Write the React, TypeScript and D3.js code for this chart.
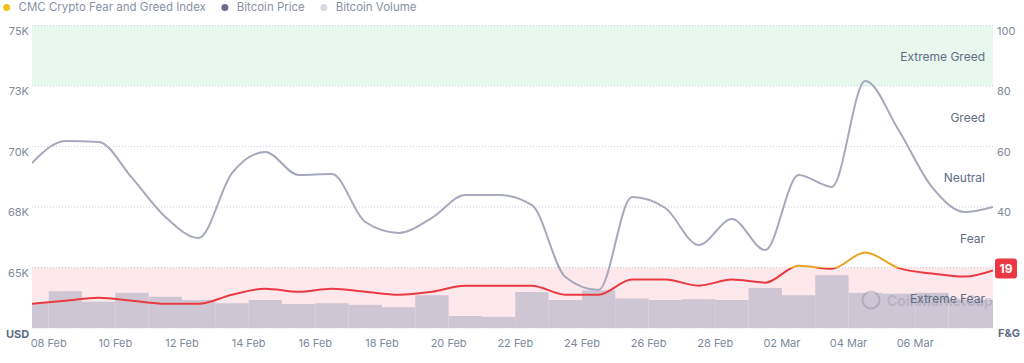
import React, { useEffect, useLayoutEffect, useRef, useState } from 'react';
import * as d3 from 'd3';

// daily points (noon UTC), last one is the live reading
const dates = [
  '2026-02-07T12:00Z', '2026-02-08T12:00Z', '2026-02-09T12:00Z', '2026-02-10T12:00Z',
  '2026-02-11T12:00Z', '2026-02-12T12:00Z', '2026-02-13T12:00Z', '2026-02-14T12:00Z',
  '2026-02-15T12:00Z', '2026-02-16T12:00Z', '2026-02-17T12:00Z', '2026-02-18T12:00Z',
  '2026-02-19T12:00Z', '2026-02-20T12:00Z', '2026-02-21T12:00Z', '2026-02-22T12:00Z',
  '2026-02-23T12:00Z', '2026-02-24T12:00Z', '2026-02-25T12:00Z', '2026-02-26T12:00Z',
  '2026-02-27T12:00Z', '2026-02-28T12:00Z', '2026-03-01T12:00Z', '2026-03-02T12:00Z',
  '2026-03-03T12:00Z', '2026-03-04T12:00Z', '2026-03-05T12:00Z', '2026-03-06T12:00Z',
  '2026-03-07T12:00Z', '2026-03-08T08:00Z',
];

const btcPrice = [
  69320, 70230, 70190, 68700, 67090, 66220, 68900, 69770, 68820, 68860,
  66880, 66430, 67050, 68000, 68000, 67580, 64610, 64070, 67910, 67460,
  65930, 67000, 65720, 68820, 68330, 72710, 70680, 68330, 67290, 67500,
];

const fearGreed = [
  8, 9, 10, 9, 8, 8, 11, 13, 12, 13,
  12, 11, 12, 14, 14, 14, 11, 11, 16, 16,
  14, 16, 15, 20.6, 19.6, 25, 19.8, 18, 17, 19,
];

// billions USD
const btcVolume = [
  31, 46, 33, 44, 39, 35, 31, 35, 30, 31,
  29, 26, 41, 15, 14, 45, 35, 47, 37, 35,
  36, 35, 50, 41, 66, 44, 43, 44, 35, 35,
];

const priceTicks = [75000, 72500, 70000, 67500, 65000];
const fgTicks = [100, 80, 60, 40];
const fgGrid = [0, 20, 40, 60, 80, 100];
const dateTicks = [
  '2026-02-08', '2026-02-10', '2026-02-12', '2026-02-14', '2026-02-16', '2026-02-18',
  '2026-02-20', '2026-02-22', '2026-02-24', '2026-02-26', '2026-02-28', '2026-03-02',
  '2026-03-04', '2026-03-06',
];
const zoneLabels = ['Extreme Fear', 'Fear', 'Neutral', 'Greed', 'Extreme Greed'];

const legendLabels = ['CMC Crypto Fear and Greed Index', 'Bitcoin Price', 'Bitcoin Volume'];
const legendColors = ['#f0c419', '#6c6f8c', '#d7dae2'];

const W = 1024;
const H = 363;
const left = 32;
const right = 993;
const top = 25.5;
const bottom = 328;

const RED = '#ea3943';
const ORANGE = '#eaa325';
const FONT = 'Inter, "Noto Sans", sans-serif';

const App: React.FC = () => {
  const legendRefs = useRef<(SVGTextElement | null)[]>([]);
  const [legendW, setLegendW] = useState<number[]>(legendLabels.map(l => l.length * 6));

  useEffect(() => {
    document.body.style.margin = '0';
  }, []);

  useLayoutEffect(() => {
    const w = legendRefs.current.map(el => (el ? el.getComputedTextLength() : 0));
    if (w.every(v => v > 0)) setLegendW(w);
  }, []);

  const t = dates.map(d => new Date(d));
  const x = d3.scaleUtc().domain([t[0], t[t.length - 1]]).range([left, right]);
  const yPrice = d3.scaleLinear().domain([62500, 75000]).range([bottom, top]);
  const yFG = d3.scaleLinear().domain([0, 100]).range([bottom, top]);
  const yVol = d3.scaleLinear().domain([0, 100]).range([bottom, bottom - 80]);

  const pricePath = d3.line<number>()
    .x((_, i) => x(t[i]))
    .y(d => yPrice(d))
    .curve(d3.curveMonotoneX)(btcPrice) || '';

  const fgPath = d3.line<number>()
    .x((_, i) => x(t[i]))
    .y(d => yFG(d))
    .curve(d3.curveMonotoneX)(fearGreed) || '';

  const halfDay = 12 * 3600 * 1000;
  const fmt = d3.utcFormat('%d %b');
  const fgStop = (100 - 20) / 100;
  const lastFG = fearGreed[fearGreed.length - 1];
  const lastY = yFG(lastFG) - 2;

  // legend layout: dot, label, gap
  const legendX: number[] = [];
  let lx = 6.7;
  legendLabels.forEach((_, i) => {
    legendX.push(lx);
    lx += 11.8 + legendW[i] + 19;
  });

  return (
    <svg width={W} height={H} style={{ display: 'block', fontFamily: FONT }}>
      <defs>
        <clipPath id="plot">
          <rect x={left} y={0} width={right - left} height={bottom} />
        </clipPath>
        <linearGradient id="fgGrad" gradientUnits="userSpaceOnUse" x1={0} x2={0} y1={yFG(100)} y2={yFG(0)}>
          <stop offset={0} stopColor={ORANGE} />
          <stop offset={fgStop} stopColor={ORANGE} />
          <stop offset={fgStop} stopColor={RED} />
          <stop offset={1} stopColor={RED} />
        </linearGradient>
      </defs>

      {/* legend */}
      {legendLabels.map((l, i) => (
        <g key={l}>
          <circle cx={legendX[i]} cy={7.5} r={3.5} fill={legendColors[i]} />
          <text ref={el => { legendRefs.current[i] = el; }} x={legendX[i] + 11.8} y={11.4}
            fontSize={11.5} fill="#8a91a6">{l}</text>
        </g>
      ))}

      {/* zone bands */}
      <rect x={left} y={yFG(100)} width={right - left} height={yFG(80) - yFG(100)} fill="#e7f8ee" />
      <rect x={left} y={yFG(20)} width={right - left} height={yFG(0) - yFG(20)} fill="#fde9eb" />

      {/* grid */}
      {fgGrid.map(v => (
        <line key={v} x1={left} x2={right} y1={yFG(v)} y2={yFG(v)}
          stroke="#c9d0dc" strokeWidth={1} strokeDasharray="1 2" />
      ))}

      {/* volume */}
      <g clipPath="url(#plot)">
        {btcVolume.map((v, i) => (
          <rect key={i}
            x={x(new Date(+t[i] - halfDay))}
            y={yVol(v)}
            width={x(new Date(+t[i] + halfDay)) - x(new Date(+t[i] - halfDay))}
            height={bottom - yVol(v)}
            fill="#cfc6d4" />
        ))}
      </g>

      {/* watermark */}
      <g opacity={0.35}>
        <circle cx={871} cy={300} r={8.5} fill="none" stroke="#7d8196" strokeWidth={2} />
        <text x={887} y={305.5} fontSize={14} fontWeight={600} fill="#8a8fa3">CoinMarketCap</text>
      </g>

      {/* zone labels */}
      {zoneLabels.map((z, i) => (
        <text key={z} x={985} y={(yFG(i * 20) + yFG(i * 20 + 20)) / 2 + 5.5}
          textAnchor="end" fontSize={12} fill="#616d84">{z}</text>
      ))}

      <g clipPath="url(#plot)">
        <path d={pricePath} fill="none" stroke="#a6a9bc" strokeWidth={2} />
        <path d={fgPath} fill="none" stroke="url(#fgGrad)" strokeWidth={2} />
      </g>

      {/* left axis */}
      {priceTicks.map(v => (
        <text key={v} x={29} y={yPrice(v) + 9} textAnchor="end" fontSize={11} fill="#808a9d">
          {Math.round(v / 1000) + 'K'}
        </text>
      ))}
      <text x={6} y={338} fontSize={11} fontWeight={700} fill="#616d84">USD</text>

      {/* right axis */}
      {fgTicks.map(v => (
        <text key={v} x={997} y={yFG(v) + 9} fontSize={11} fill="#808a9d">{v}</text>
      ))}
      <text x={998} y={337} fontSize={11} fontWeight={700} fill="#616d84">F&amp;G</text>

      {/* badge */}
      <rect x={995} y={lastY - 10} width={22} height={20} rx={3} fill={RED} />
      <text x={1006} y={lastY + 4.3} textAnchor="middle" fontSize={12} fontWeight={700} fill="#fff">
        {lastFG}
      </text>

      {/* date axis */}
      {dateTicks.map(d => (
        <text key={d} x={x(new Date(d + 'T00:00Z'))} y={347} textAnchor="middle" fontSize={11} fill="#808a9d">
          {fmt(new Date(d + 'T00:00Z'))}
        </text>
      ))}
    </svg>
  );
};

export default App;
